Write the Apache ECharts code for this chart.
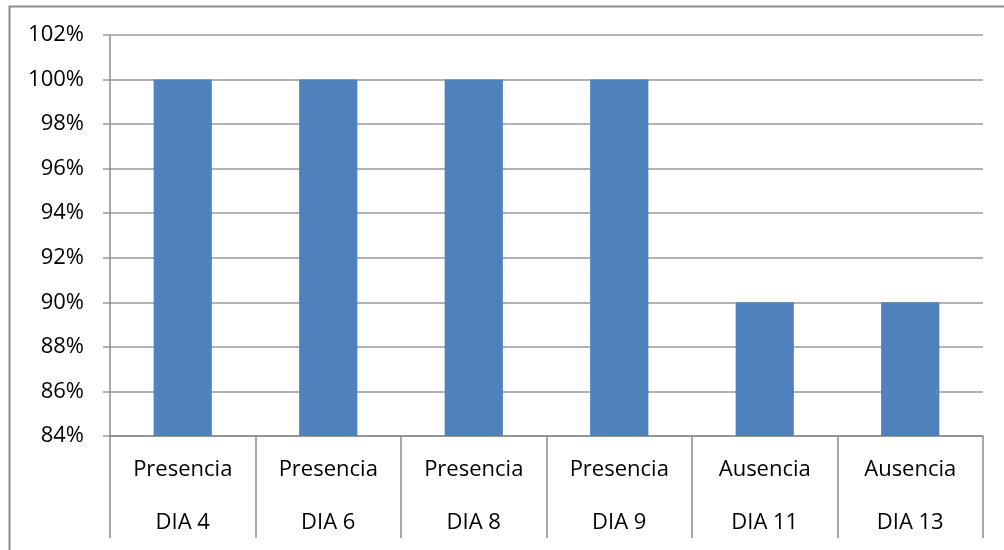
<!DOCTYPE html>
<html>
<head>
<meta charset="utf-8">
<script src="https://cdn.jsdelivr.net/npm/echarts@6/dist/echarts.min.js"></script>
<style>
  html, body { margin: 0; padding: 0; background: #fff; }
  #chart { width: 1004px; height: 550px; }
</style>
</head>
<body>
<div id="chart"></div>
<script>
// Category labels: the day (lower row) and its group (upper row)
const days = ['DIA 4', 'DIA 6', 'DIA 8', 'DIA 9', 'DIA 11', 'DIA 13'];
const groups = ['Presencia', 'Presencia', 'Presencia', 'Presencia', 'Ausencia', 'Ausencia'];
// Percentage per day
const values = [100, 100, 100, 100, 90, 90];
// Value axis range (percent)
const yMin = 84, yMax = 102, yStep = 2;

const chart = echarts.init(document.getElementById('chart'), null, { renderer: 'canvas' });
const font = '"Open Sans", "Liberation Sans", sans-serif';

chart.setOption({
  animation: false,
  grid: { left: 110, right: 21, top: 35, bottom: 114, containLabel: false },
  xAxis: {
    type: 'category',
    data: days,
    boundaryGap: true,
    axisLine: { show: true, lineStyle: { color: '#8c8c8c', width: 1.5 } },
    axisTick: { show: true, interval: 0, length: 102, lineStyle: { color: '#8c8c8c', width: 1.5 } },
    axisLabel: {
      interval: 0,
      margin: 7,
      color: '#000',
      fontFamily: font,
      fontSize: 22,
      lineHeight: 53,
      formatter: (v, i) => groups[i] + '\n' + v
    },
    splitLine: { show: false }
  },
  yAxis: {
    type: 'value',
    min: yMin,
    max: yMax,
    interval: yStep,
    axisLine: { show: true, lineStyle: { color: '#8c8c8c', width: 1.5 } },
    axisTick: { show: true, length: 7, lineStyle: { color: '#999', width: 1.5 } },
    axisLabel: {
      margin: 26,
      color: '#000',
      fontFamily: font,
      fontSize: 22,
      formatter: '{value}%'
    },
    splitLine: { show: true, lineStyle: { color: '#999', width: 1.5 } }
  },
  series: [{
    type: 'bar',
    data: values,
    barWidth: '40%',
    itemStyle: { color: '#4F81BD' }
  }],
  graphic: [{
    type: 'polyline',
    silent: true,
    shape: { points: [[9.5, 550], [9.5, 6.5], [1004, 6.5]] },
    style: { stroke: '#8c8c8c', lineWidth: 2, fill: null }
  }]
});
</script>
</body>
</html>
